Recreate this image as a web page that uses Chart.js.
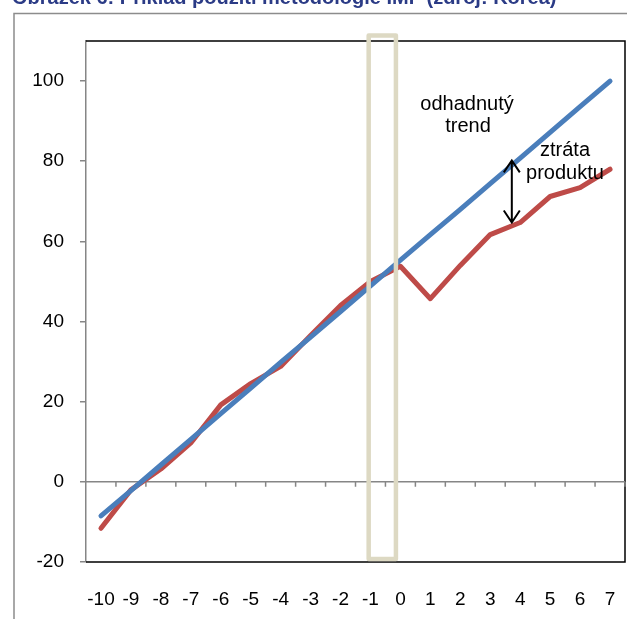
<!DOCTYPE html>
<html>
<head>
<meta charset="utf-8">
<script src="https://cdn.jsdelivr.net/npm/chart.js@4/dist/chart.umd.min.js"></script>
<style>
  html, body { margin: 0; padding: 0; background: #fff; }
  #wrap { position: relative; width: 627px; height: 619px; }
</style>
</head>
<body>
<div id="wrap"><canvas id="mainChart" width="627" height="619"></canvas></div>
<script>
// Chart data
const years = ['-10', '-9', '-8', '-7', '-6', '-5', '-4', '-3', '-2', '-1', '0', '1', '2', '3', '4', '5', '6', '7'];
const trendValues = [-8.5, -2.2, 4.2, 10.6, 17.0, 23.4, 29.8, 36.1, 42.5, 48.9, 55.3, 61.7, 68.0, 74.4, 80.8, 87.2, 93.6, 100];
const outputValues = [-11.6, -2.0, 3.2, 9.7, 19.2, 24.5, 28.8, 36.5, 44.0, 50.0, 53.8, 45.7, 54.0, 61.7, 64.7, 71.2, 73.4, 78.0];
const yTicks = [-20, 0, 20, 40, 60, 80, 100];

const titleText = 'Obrázek 6: Příklad použití metodologie IMF (zdroj: Korea)';
// crisis-year box around "-1" (category index units / value units)
const crisisBox = { x0: 8.94, x1: 9.85, y0: -19.25, y1: 111.4 };
// output loss arrow
const lossArrow = { x: 13.72, yTop: 80.2, yBottom: 64.7 };

const FONT = '"Liberation Sans", Arial, sans-serif';

const decorations = {
    id: 'decorations',
    beforeDraw(chart) {
        const ctx = chart.ctx;
        ctx.save();
        // title (cut off at the top of the picture)
        ctx.fillStyle = '#2B3B86';
        ctx.font = 'bold 20px ' + FONT;
        ctx.textBaseline = 'alphabetic';
        ctx.textAlign = 'left';
        ctx.fillText(titleText, 12, 4);
        // outer frame
        ctx.strokeStyle = '#8C8C8C';
        ctx.lineWidth = 1.5;
        ctx.beginPath();
        ctx.moveTo(14, 630);
        ctx.lineTo(14, 13.5);
        ctx.lineTo(640, 13.5);
        ctx.stroke();
        ctx.restore();
    },
    beforeDatasetsDraw(chart) {
        const ctx = chart.ctx;
        const a = chart.chartArea;
        const xs = chart.scales.x;
        const ys = chart.scales.y;
        ctx.save();
        // plot border
        ctx.strokeStyle = '#000';
        ctx.lineWidth = 1.5;
        ctx.beginPath();
        ctx.moveTo(a.left, a.top);
        ctx.lineTo(a.right, a.top);
        ctx.lineTo(a.right, a.bottom);
        ctx.lineTo(a.left, a.bottom);
        ctx.stroke();
        // zero line with ticks between categories
        const y0 = ys.getPixelForValue(0);
        const half = (xs.getPixelForValue(1) - xs.getPixelForValue(0)) / 2;
        ctx.strokeStyle = '#868686';
        ctx.lineWidth = 1.5;
        ctx.beginPath();
        ctx.moveTo(a.left, y0);
        ctx.lineTo(a.right, y0);
        for (let i = 0; i < years.length; i++) {
            const xt = xs.getPixelForValue(i) + half;
            ctx.moveTo(xt, y0);
            ctx.lineTo(xt, y0 + 5);
        }
        ctx.stroke();
        ctx.restore();
    },
    afterDatasetsDraw(chart) {
        const ctx = chart.ctx;
        const xs = chart.scales.x;
        const ys = chart.scales.y;
        ctx.save();
        // crisis box
        const bx0 = xs.getPixelForValue(crisisBox.x0);
        const bx1 = xs.getPixelForValue(crisisBox.x1);
        const by0 = ys.getPixelForValue(crisisBox.y1);
        const by1 = ys.getPixelForValue(crisisBox.y0);
        ctx.strokeStyle = '#DDD9C3';
        ctx.lineWidth = 4.5;
        ctx.lineJoin = 'round';
        ctx.strokeRect(bx0, by0, bx1 - bx0, by1 - by0);

        // double arrow
        const ax = xs.getPixelForValue(lossArrow.x);
        const ayT = ys.getPixelForValue(lossArrow.yTop);
        const ayB = ys.getPixelForValue(lossArrow.yBottom);
        ctx.strokeStyle = '#000';
        ctx.lineWidth = 2;
        ctx.lineJoin = 'miter';
        ctx.beginPath();
        ctx.moveTo(ax, ayT);
        ctx.lineTo(ax, ayB);
        ctx.moveTo(ax - 8, ayT + 12);
        ctx.lineTo(ax, ayT);
        ctx.lineTo(ax + 8, ayT + 12);
        ctx.moveTo(ax - 8, ayB - 12);
        ctx.lineTo(ax, ayB);
        ctx.lineTo(ax + 8, ayB - 12);
        ctx.stroke();

        // labels
        ctx.fillStyle = '#000';
        ctx.font = '20px ' + FONT;
        ctx.textAlign = 'center';
        ctx.textBaseline = 'middle';
        ctx.fillText('odhadnutý', 467, 104);
        ctx.fillText('trend', 468, 126);
        ctx.fillText('ztráta', 565, 150);
        ctx.fillText('produktu', 565, 173);
        ctx.restore();
    }
};

const ctx = document.getElementById('mainChart').getContext('2d');
new Chart(ctx, {
    type: 'line',
    data: {
        labels: years,
        datasets: [
            {
                label: 'odhadnutý trend',
                data: trendValues,
                borderColor: '#4A7EBB',
                borderWidth: 5,
                pointRadius: 0,
                tension: 0,
                borderCapStyle: 'round',
                borderJoinStyle: 'round'
            },
            {
                label: 'produkt',
                data: outputValues,
                borderColor: '#BE4B48',
                borderWidth: 5,
                pointRadius: 0,
                tension: 0,
                borderCapStyle: 'round',
                borderJoinStyle: 'round'
            }
        ]
    },
    options: {
        responsive: false,
        animation: false,
        layout: { padding: { top: 41, right: 2, left: 0, bottom: 0 } },
        plugins: {
            legend: { display: false },
            tooltip: { enabled: false },
            title: { display: false }
        },
        scales: {
            x: {
                type: 'category',
                offset: true,
                grid: { display: false, drawTicks: false },
                border: { display: false },
                ticks: {
                    color: '#000',
                    font: { family: FONT, size: 19 },
                    padding: 26,
                    maxRotation: 0,
                    autoSkip: false
                },
                afterFit(scale) {
                    scale.height = 57;
                    scale.paddingLeft = 0;
                    scale.paddingRight = 0;
                }
            },
            y: {
                min: -20,
                max: 110,
                grid: {
                    drawOnChartArea: false,
                    drawTicks: true,
                    tickLength: 6,
                    color: '#868686',
                    lineWidth: 1.5
                },
                border: { display: true, color: '#868686', width: 1.5 },
                ticks: {
                    stepSize: 20,
                    includeBounds: false,
                    color: '#000',
                    font: { family: FONT, size: 19 },
                    padding: 16,
                    callback: (v) => yTicks.includes(v) ? String(v) : null
                },
                afterFit(scale) {
                    scale.width = 86;
                    scale.paddingTop = 0;
                    scale.paddingBottom = 0;
                }
            }
        }
    },
    plugins: [decorations]
});
</script>
</body>
</html>
